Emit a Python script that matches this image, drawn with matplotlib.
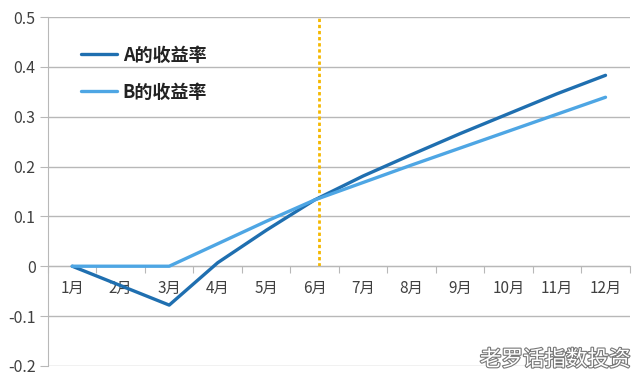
import matplotlib
matplotlib.use("Agg")
import matplotlib.pyplot as plt
import matplotlib.patheffects as pe

plt.rcParams['font.family'] = ['Noto Sans CJK SC', 'DejaVu Sans']

months = ['1月', '2月', '3月', '4月', '5月', '6月', '7月', '8月', '9月', '10月', '11月', '12月']
series_a = [0.0, -0.039, -0.078, 0.007, 0.072, 0.133, 0.181, 0.224, 0.266, 0.306, 0.346, 0.383]
series_b = [0.0, 0.0, 0.0, 0.045, 0.090, 0.133, 0.168, 0.203, 0.237, 0.271, 0.305, 0.339]
label_a = 'A的收益率'
label_b = 'B的收益率'
yticks = [-0.2, -0.1, 0, 0.1, 0.2, 0.3, 0.4, 0.5]
ytick_labels = ['-0.2', '-0.1', '0', '0.1', '0.2', '0.3', '0.4', '0.5']
marker_x = 5.1
marker_range = (0, 0.5)
watermark = '老罗话指数投资'

fig = plt.figure(figsize=(6.4, 3.78), dpi=100)
ax = fig.add_axes([0.075, 0.032, 0.909, 0.923])

x = list(range(len(months)))
grid_c = '#b8b8b8'
text_c = '#404040'

for yv in yticks:
    ax.axhline(yv, color=grid_c, lw=1.0, zorder=1)

ax.plot(x, series_a, color='#1f6fb0', lw=2.4, label=label_a, zorder=3, solid_capstyle='round')
ax.plot(x, series_b, color='#4ea6e4', lw=2.4, label=label_b, zorder=3, solid_capstyle='round')
ax.vlines(marker_x, marker_range[0], marker_range[1], color='#f5b800', lw=2.0,
          linestyles=[(0, (1.2, 1.0))], zorder=2)

ax.set_xlim(-0.5, 11.5)
ax.set_ylim(-0.2, 0.5)
ax.set_yticks(yticks)
ax.set_yticklabels(ytick_labels)
ax.tick_params(axis='y', length=6, color=grid_c, labelsize=11.5, labelcolor=text_c, pad=3)

ax.spines['top'].set_visible(False)
ax.spines['right'].set_visible(False)
ax.spines['left'].set_color(grid_c)
ax.spines['bottom'].set_position(('data', 0))
ax.spines['bottom'].set_color(grid_c)

ax.set_xticks([i - 0.5 for i in range(len(months) + 1)], minor=False)
ax.set_xticklabels([''] * (len(months) + 1))
ax.set_xticks(x, minor=True)
ax.set_xticklabels(months, minor=True)
ax.tick_params(axis='x', which='major', length=5, color=grid_c, direction='out')
ax.tick_params(axis='x', which='minor', length=0, labelsize=11, labelcolor=text_c, pad=10)

leg = ax.legend(loc='upper left', bbox_to_anchor=(0.029, 0.965), frameon=False,
                handlelength=2.0, handletextpad=0.3, labelspacing=1.0,
                prop={'weight': 'bold', 'size': 13})
for t in leg.get_texts():
    t.set_color('#222222')

fig.text(0.985, 0.048, watermark, ha='right', va='center', fontsize=15.5, style='italic',
         color='white', path_effects=[pe.withStroke(linewidth=1.6, foreground='#777777')])

fig.savefig('out.png', dpi=100)
